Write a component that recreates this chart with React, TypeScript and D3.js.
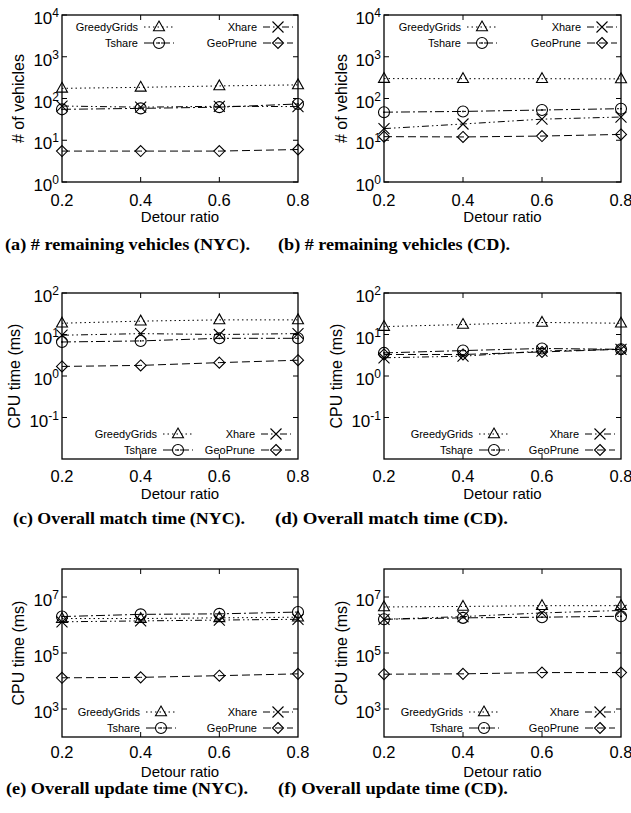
import React, { useEffect, useRef } from 'react';
import * as d3 from 'd3';

// x values shared by every panel
const detourRatios = [0.2, 0.4, 0.6, 0.8];
const seriesNames = ['GreedyGrids', 'Tshare', 'Xhare', 'GeoPrune'];

// (a) remaining vehicles, NYC
const vehNycGreedyGrids = [175, 185, 200, 212];
const vehNycTshare = [55, 58, 62, 74];
const vehNycXhare = [66, 62, 65, 64];
const vehNycGeoPrune = [5.5, 5.5, 5.5, 6.0];

// (b) remaining vehicles, CD
const vehCdGreedyGrids = [300, 298, 298, 295];
const vehCdTshare = [47, 49, 53, 57];
const vehCdXhare = [19, 24.5, 32, 36];
const vehCdGeoPrune = [12.2, 12, 12.6, 13.8];

// (c) match time, NYC
const matchNycGreedyGrids = [18.7, 21, 22.5, 22.5];
const matchNycTshare = [6.6, 7, 8.1, 8.1];
const matchNycXhare = [9.6, 10.5, 10, 10.5];
const matchNycGeoPrune = [1.7, 1.8, 2.1, 2.4];

// (d) match time, CD
const matchCdGreedyGrids = [15.5, 17.4, 19.5, 18.7];
const matchCdTshare = [3.6, 4.1, 4.6, 4.4];
const matchCdXhare = [2.75, 3.0, 4.0, 4.4];
const matchCdGeoPrune = [3.3, 3.3, 3.8, 4.4];

// (e) update time, NYC
const updNycGreedyGrids = [1.7e6, 1.7e6, 1.8e6, 1.9e6];
const updNycTshare = [2.0e6, 2.4e6, 2.5e6, 2.9e6];
const updNycXhare = [1.3e6, 1.4e6, 1.5e6, 1.6e6];
const updNycGeoPrune = [1.3e4, 1.35e4, 1.55e4, 1.8e4];

// (f) update time, CD
const updCdGreedyGrids = [4.4e6, 4.6e6, 4.9e6, 4.9e6];
const updCdTshare = [1.6e6, 1.8e6, 1.9e6, 2.05e6];
const updCdXhare = [1.6e6, 2.0e6, 2.7e6, 3.3e6];
const updCdGeoPrune = [1.75e4, 1.8e4, 2.0e4, 2.0e4];

const xTickLabels = ['0.2', '0.4', '0.6', '0.8'];
const captions = [
  '(a) # remaining vehicles (NYC).',
  '(b) # remaining vehicles (CD).',
  '(c) Overall match time (NYC).',
  '(d) Overall match time (CD).',
  '(e) Overall update time (NYC).',
  '(f) Overall update time (CD).',
];

const SANS = '"Liberation Sans", Arial, Helvetica, sans-serif';
const SERIF = '"Liberation Serif", "Times New Roman", serif';

const dashes: Record<string, string> = {
  GreedyGrids: '1.5,3',
  Tshare: '9,3,2,3',
  Xhare: '7,3,1.5,3,1.5,3',
  GeoPrune: '8,4',
};

const panels = [
  { left: 62, right: 298, top: 15, bottom: 182, dom: [1, 1e4], exps: [0, 1, 2, 3, 4], ylabel: '# of vehicles', ylx: 18,
    legTop: true, col1: 76, col2: 195, cap: [5, 250, 250], kgap: 24, tgap: 40,
    data: [vehNycGreedyGrids, vehNycTshare, vehNycXhare, vehNycGeoPrune] },
  { left: 384, right: 621, top: 15, bottom: 182, dom: [1, 1e4], exps: [0, 1, 2, 3, 4], ylabel: '# of vehicles', ylx: 341,
    legTop: true, col1: 77, col2: 197, cap: [278, 510, 250], kgap: 24, tgap: 40,
    data: [vehCdGreedyGrids, vehCdTshare, vehCdXhare, vehCdGeoPrune] },
  { left: 62, right: 298, top: 293, bottom: 459, dom: [0.01, 100], exps: [-1, 0, 1, 2], ylabel: 'CPU time (ms)', ylx: 14,
    legTop: false, col1: 95, col2: 193, cap: [13, 245, 524], kgap: 23, tgap: 40,
    data: [matchNycGreedyGrids, matchNycTshare, matchNycXhare, matchNycGeoPrune] },
  { left: 384, right: 621, top: 293, bottom: 459, dom: [0.01, 100], exps: [-1, 0, 1, 2], ylabel: 'CPU time (ms)', ylx: 336,
    legTop: false, col1: 89, col2: 195, cap: [275, 508, 524], kgap: 23, tgap: 40,
    data: [matchCdGreedyGrids, matchCdTshare, matchCdXhare, matchCdGeoPrune] },
  { left: 62, right: 298, top: 569, bottom: 737, dom: [1e2, 1e8], exps: [3, 5, 7], ylabel: 'CPU time (ms)', ylx: 18,
    legTop: false, col1: 78, col2: 195, cap: [6, 248, 794], kgap: 21, tgap: 40,
    data: [updNycGreedyGrids, updNycTshare, updNycXhare, updNycGeoPrune] },
  { left: 384, right: 621, top: 569, bottom: 737, dom: [1e2, 1e8], exps: [3, 5, 7], ylabel: 'CPU time (ms)', ylx: 341,
    legTop: false, col1: 79, col2: 195, cap: [278, 508, 794], kgap: 21, tgap: 40,
    data: [updCdGreedyGrids, updCdTshare, updCdXhare, updCdGeoPrune] },
];

function drawMarker(g: any, name: string, x: number, y: number) {
  const m = g.append('g').attr('transform', `translate(${x},${y})`)
    .attr('fill', 'none').attr('stroke', '#000').attr('stroke-width', 1.1);
  if (name === 'GreedyGrids') {
    m.append('path').attr('d', 'M0,-6L5.5,3.8L-5.5,3.8Z');
  } else if (name === 'Tshare') {
    m.append('circle').attr('r', 5.5);
    m.append('circle').attr('r', 0.9).attr('fill', '#000').attr('stroke', 'none');
  } else if (name === 'Xhare') {
    m.append('path').attr('d', 'M-5.5,-5.5L5.5,5.5M-5.5,5.5L5.5,-5.5');
  } else {
    m.append('path').attr('d', 'M0,-5.5L5.5,0L0,5.5L-5.5,0Z');
  }
}

function drawPanel(svg: any, p: any, idx: number) {
  const x = d3.scaleLinear().domain([0.2, 0.8]).range([p.left, p.right]);
  const y = d3.scaleLog().domain(p.dom).range([p.bottom, p.top]);
  const g = svg.append('g');

  // ticks, mirrored on all sides
  detourRatios.forEach((v, i) => {
    const xx = x(v);
    if (i > 0 && i < detourRatios.length - 1) {
      g.append('line').attr('x1', xx).attr('x2', xx).attr('y1', p.bottom).attr('y2', p.bottom - 5).attr('stroke', '#000');
      g.append('line').attr('x1', xx).attr('x2', xx).attr('y1', p.top).attr('y2', p.top + 5).attr('stroke', '#000');
    }
    g.append('text').attr('x', xx).attr('y', p.bottom + p.kgap).attr('text-anchor', 'middle')
      .attr('font-family', SANS).attr('font-size', 16.5).text(xTickLabels[i]);
  });
  p.exps.forEach((e: number) => {
    const yy = y(Math.pow(10, e));
    g.append('line').attr('x1', p.left).attr('x2', p.left + 5).attr('y1', yy).attr('y2', yy).attr('stroke', '#000');
    g.append('line').attr('x1', p.right).attr('x2', p.right - 5).attr('y1', yy).attr('y2', yy).attr('stroke', '#000');
    const t = g.append('text').attr('x', p.left - 3).attr('y', yy + 9).attr('text-anchor', 'end')
      .attr('font-family', SANS).attr('font-size', 17);
    t.append('tspan').text('10');
    t.append('tspan').attr('dy', -7).attr('font-size', 12).text(String(e));
  });

  // series
  const line = d3.line<number>().x((_, i) => x(detourRatios[i])).y(d => y(d));
  seriesNames.forEach((name, si) => {
    const vals = p.data[si];
    g.append('path').attr('d', line(vals)).attr('fill', 'none').attr('stroke', '#000')
      .attr('stroke-width', 1).attr('stroke-dasharray', dashes[name]);
    vals.forEach((v: number, i: number) => drawMarker(g, name, x(detourRatios[i]), y(v)));
  });

  // legend
  const rows = p.legTop ? [p.top + 12, p.top + 28] : [p.bottom - 25, p.bottom - 9];
  const order = [[0, 2], [1, 3]];
  order.forEach((pair, r) => {
    pair.forEach((si, c) => {
      const name = seriesNames[si];
      const te = p.left + (c === 0 ? p.col1 : p.col2);
      const ry = rows[r];
      g.append('text').attr('x', te).attr('y', ry + 4).attr('text-anchor', 'end')
        .attr('font-family', SANS).attr('font-size', 11).text(name);
      g.append('line').attr('x1', te + 6).attr('x2', te + 36).attr('y1', ry).attr('y2', ry)
        .attr('stroke', '#000').attr('stroke-dasharray', dashes[name]);
      drawMarker(g, name, te + 21, ry);
    });
  });

  // frame
  g.append('rect').attr('x', p.left).attr('y', p.top).attr('width', p.right - p.left)
    .attr('height', p.bottom - p.top).attr('fill', 'none').attr('stroke', '#000').attr('stroke-width', 1.3);

  // axis titles
  g.append('text').attr('x', (p.left + p.right) / 2).attr('y', p.bottom + p.tgap).attr('text-anchor', 'middle')
    .attr('font-family', SANS).attr('font-size', 15).text('Detour ratio');
  g.append('text').attr('transform', `translate(${p.ylx},${(p.top + p.bottom) / 2}) rotate(-90)`)
    .attr('text-anchor', 'middle').attr('dy', '0.35em')
    .attr('font-family', SANS).attr('font-size', 16).text(p.ylabel);

  // caption
  g.append('text').attr('x', p.cap[0]).attr('y', p.cap[2])
    .attr('textLength', p.cap[1] - p.cap[0]).attr('lengthAdjust', 'spacingAndGlyphs')
    .attr('font-family', SERIF).attr('font-weight', 'bold').attr('font-size', 17).text(captions[idx]);
}

export default function App() {
  const ref = useRef<SVGSVGElement>(null);
  useEffect(() => {
    const svg = d3.select(ref.current);
    svg.selectAll('*').remove();
    svg.append('rect').attr('width', 631).attr('height', 813).attr('fill', '#fff');
    panels.forEach((p, i) => drawPanel(svg, p, i));
  }, []);
  return (
    <svg ref={ref} width={631} height={813} style={{ position: 'absolute', left: 0, top: 0 }} />
  );
}
